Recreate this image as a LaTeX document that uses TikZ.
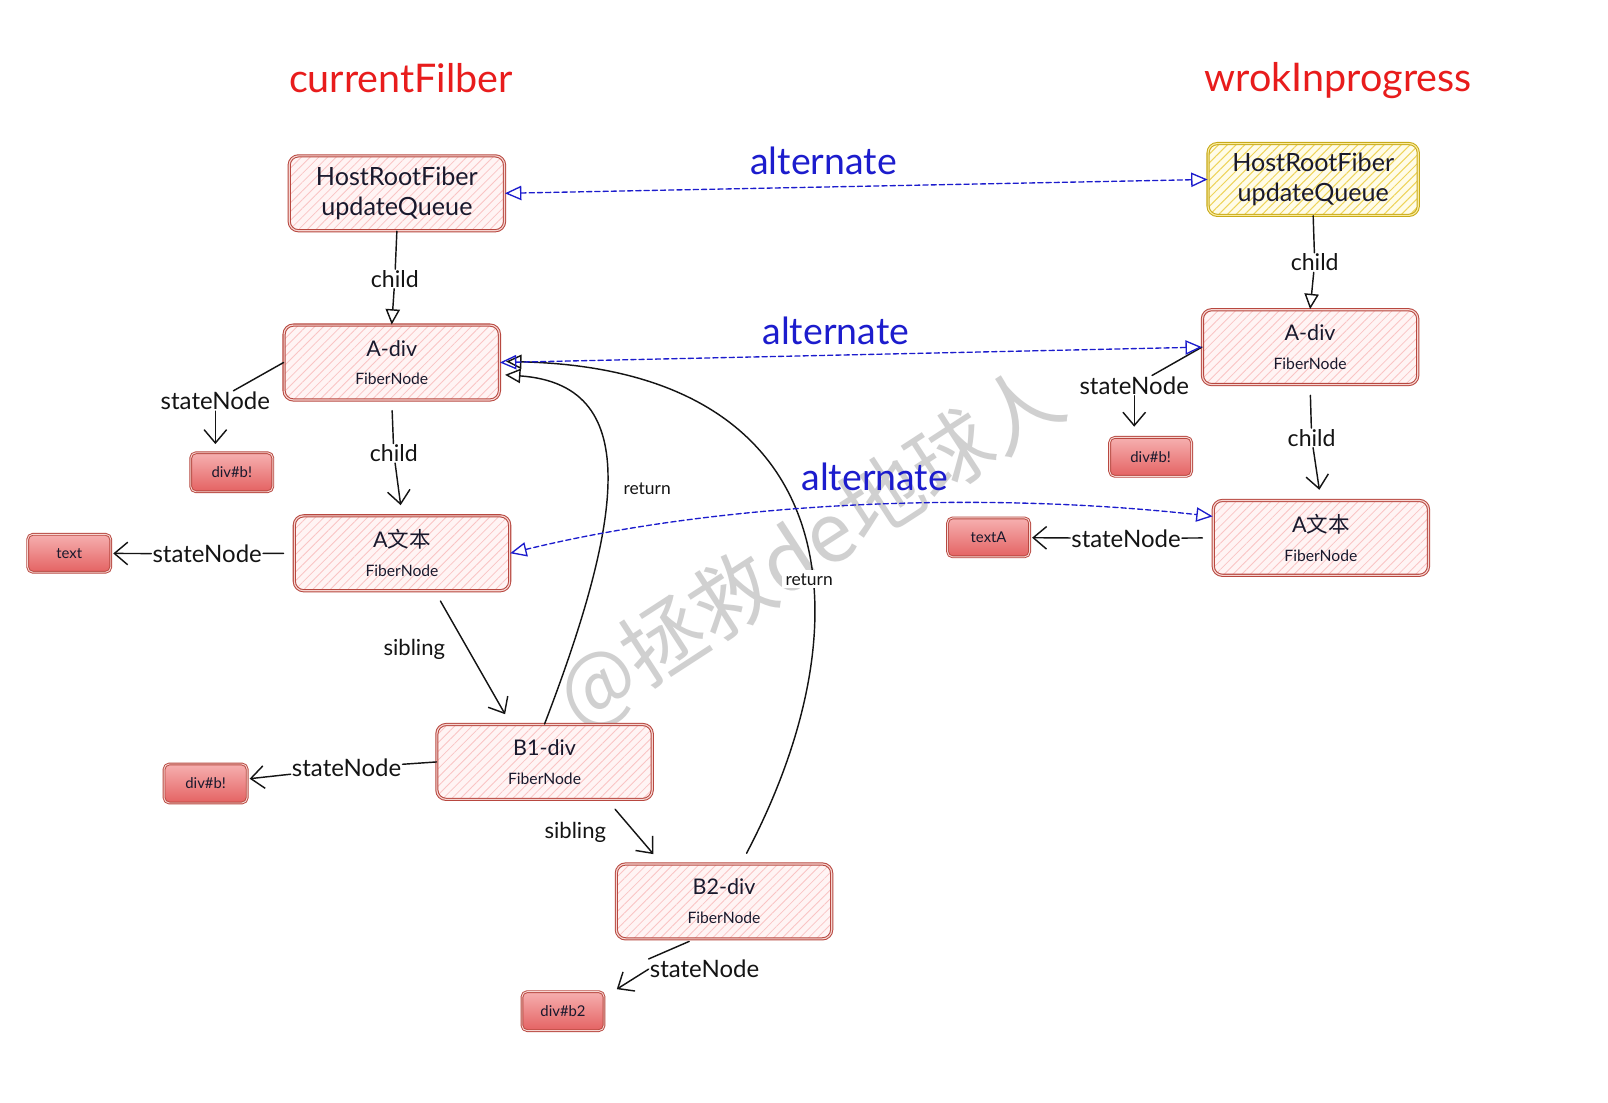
\documentclass[tikz,border=0pt]{standalone}
\usepackage{fontspec}
\setmainfont{Lato}
\newfontfamily\cjk{Noto Sans CJK SC}
\usetikzlibrary{arrows.meta,patterns.meta,calc}

\definecolor{ink}{RGB}{20,20,20}
\definecolor{inkdark}{RGB}{25,25,45}
\definecolor{titlered}{RGB}{232,28,28}
\definecolor{altblue}{RGB}{28,28,205}
\definecolor{boxred}{RGB}{184,72,64}
\definecolor{boxgap}{RGB}{246,214,210}
\definecolor{pinkbase}{RGB}{255,244,244}
\definecolor{pinkhatch}{RGB}{250,196,196}
\definecolor{ybord}{RGB}{200,170,25}
\definecolor{ygap}{RGB}{250,235,160}
\definecolor{ybase}{RGB}{255,252,232}
\definecolor{yhatch}{RGB}{238,212,90}
\definecolor{smtop}{RGB}{246,176,176}
\definecolor{smbot}{RGB}{228,98,98}
\definecolor{wmgray}{RGB}{208,208,208}

\newcommand\szT{\fontsize{38.5}{46}\selectfont}
\newcommand\szL{\fontsize{36.5}{44}\selectfont}
\newcommand\szH{\fontsize{24.5}{29}\selectfont}
\newcommand\szA{\fontsize{21}{25}\selectfont}
\newcommand\szB{\fontsize{23.4}{27}\selectfont}
\newcommand\szK{\fontsize{22.5}{26}\selectfont}
\newcommand\szS{\fontsize{21.5}{26}\selectfont}
\newcommand\szC{\fontsize{15.3}{18}\selectfont}
\newcommand\szD{\fontsize{14.5}{17}\selectfont}
\newcommand\szE{\fontsize{17}{20}\selectfont}
\newcommand\szW{\fontsize{80}{90}\selectfont}

\begin{document}
\begin{tikzpicture}[x=1pt,y=-1pt,line cap=round,line join=round,
  fiber/.style={draw=boxred, line width=1pt, double=boxgap, double distance=1.1pt,
    rounded corners=9pt, minimum width=210pt, minimum height=73pt, inner sep=0pt,
    align=center, font=\szC, text=inkdark,
    preaction={fill=pinkbase},
    pattern={Lines[angle=45,distance=6pt,line width=0.8pt]}, pattern color=pinkhatch},
  rootbox/.style={fiber, minimum width=205pt, minimum height=70pt, font=\szH,
    draw=ybord, double=ygap, preaction={fill=ybase},
    pattern={Lines[angle=45,distance=6pt,line width=1pt]}, pattern color=yhatch},
  smallbox/.style={draw=boxred, line width=0.9pt, double=boxgap, double distance=0.9pt,
    rounded corners=5pt, top color=smtop, bottom color=smbot,
    minimum width=80pt, minimum height=38pt, inner sep=0pt, font=\szD, text=inkdark},
  lbl/.style={font=\szB, text=ink, inner sep=1pt},
  childlbl/.style={lbl, font=\szK},
  siblbl/.style={lbl, font=\szS},
  conn/.style={draw=ink, line width=1.4pt},
  barb/.style={-{Straight Barb[length=13pt,width=22pt,line width=1.4pt]}},
  tri/.style={-{Triangle[open,length=15pt,width=14pt,line width=1.4pt]}},
  alt/.style={draw=altblue, line width=1.3pt, dash pattern=on 5pt off 3pt,
    {Triangle[open,length=16pt,width=14pt,line width=1.3pt]}-{Triangle[open,length=16pt,width=14pt,line width=1.3pt]}},
  alttext/.style={font=\szL, text=altblue, inner sep=1pt},
  titletext/.style={font=\szT, text=titlered, inner sep=1pt}
]
\useasboundingbox (0,0) rectangle (1568,1075);
\fill[white] (0,0) rectangle (1568,1075);

% watermark
\node[rotate=33, text=wmgray, font=\szW\cjk] (wm) at (790,535) {@拯救de地球人};

% column titles
\node[titletext] (t1) at (391,76) {currentFilber};
\node[titletext] (t2) at (1305,79) {wrokInprogress};

% current fiber tree
\node[fiber, font=\szH] (hrfL) at (387,188.5) {HostRootFiber\\updateQueue};
\node[fiber] (adivL) at (382,353.5) {{\szA A-div}\\[10pt]FiberNode};
\node[fiber] (atxtL) at (392,539.5) {{\szA A{\cjk 文本}}\\[10pt]FiberNode};
\node[fiber] (b1) at (531,743) {{\szA B1-div}\\[10pt]FiberNode};
\node[fiber] (b2) at (706,879) {{\szA B2-div}\\[10pt]FiberNode};

% work-in-progress tree
\node[rootbox] (hrfR) at (1280.5,175) {HostRootFiber\\updateQueue};
\node[fiber] (adivR) at (1277.5,338.5) {{\szA A-div}\\[10pt]FiberNode};
\node[fiber] (atxtR) at (1288,524.5) {{\szA A{\cjk 文本}}\\[10pt]FiberNode};

% state nodes
\node[smallbox] (sbL) at (226,460.5) {div\#b!};
\node[smallbox] (sbR) at (1122,445.5) {div\#b!};
\node[smallbox, minimum width=81pt, minimum height=37pt] (txt) at (67.5,539.5) {text};
\node[smallbox] (txtA) at (964,524) {textA};
\node[smallbox, minimum width=81pt] (sbB1) at (200.5,764) {div\#b!};
\node[smallbox] (sbB2) at (549,986) {div\#b2};

% edge labels
\node[childlbl] (c1) at (385,272) {child};
\node[childlbl] (c2) at (384,442) {child};
\node[lbl] (s1) at (210,391) {stateNode};
\node[lbl] (s2) at (202,540) {stateNode};
\node[siblbl] (sib1) at (404,633) {sibling};
\node[lbl] (s3) at (338,749) {stateNode};
\node[siblbl] (sib2) at (561,812) {sibling};
\node[lbl] (s4) at (687,945) {stateNode};
\node[childlbl] (c3) at (1282,256) {child};
\node[childlbl] (c4) at (1279,427) {child};
\node[lbl] (s5) at (1106,376) {stateNode};
\node[lbl] (s6) at (1098,525) {stateNode};

% child links
\draw[conn] (hrfL.south) -- (c1);
\draw[conn,tri] (c1) -- (adivL.north);
\draw[conn,shorten <=10pt] (adivL.south) -- (c2);
\draw[conn,barb,shorten >=10pt] (c2) -- (atxtL.north);
\draw[conn] (hrfR.south) -- (c3);
\draw[conn,tri] (c3) -- (adivR.north);
\draw[conn,shorten <=10pt] (adivR.south) -- (c4);
\draw[conn,barb,shorten >=10pt] (c4) -- (atxtR.north);

% stateNode links
\draw[conn] (adivL.west) -- (s1);
\draw[conn,barb,shorten >=8pt] (s1.south) -- (s1.south |- sbL.north);
\draw[conn,shorten <=10pt] (atxtL.west) -- (s2);
\draw[conn,barb,shorten >=2pt] (s2) -- (txt);
\draw[conn] (b1.west) -- (s3);
\draw[conn,barb,shorten >=2pt] (s3) -- (sbB1);
\draw[conn] ($(b2.south)+(-34,2)$) -- (s4.north west);
\draw[conn,barb] (s4.west) -- ($(sbB2.north east)+(12,-2)$);
\draw[conn] (adivR.west) -- (s5);
\draw[conn,barb,shorten >=10pt] (s5.south) -- (s5.south |- sbR.north);
\draw[conn,shorten <=10pt] (atxtR.west) -- (s6);
\draw[conn,barb,shorten >=2pt] (s6) -- (txtA);

% sibling links
\draw[conn,barb,shorten <=11pt,shorten >=11pt] ($(atxtL.south)+(32,0)$) -- ($(b1.north)+(-33,0)$);
\draw[conn,barb,shorten <=12pt,shorten >=12pt] ($(b1.south)+(61,0)$) -- ($(b2.north)+(-61,0)$);

% return links
\draw[conn,tri] (b1.north) .. controls (610,500) and (625,375) .. ($(adivL.east)+(5,12)$);
\node[font=\szE, text=ink, inner sep=1pt] (r1) at (631,477) {return};
\draw[conn,tri] ($(b2.north)+(22,-10)$) .. controls (850,600) and (820,360) .. ($(adivL.east)+(6,-1)$);
\node[font=\szE, text=ink, fill=white, inner sep=3pt] (r2) at (789,565) {return};

% alternate links
\draw[alt] (hrfL.east) -- (hrfR.west);
\node[alttext] (a1) at (803,157) {alternate};
\draw[alt] (adivL.east) -- (adivR.west);
\node[alttext] (a2) at (815,323) {alternate};
\draw[alt] (atxtL.east) .. controls (700,490) and (950,478) .. ([yshift=21pt]atxtR.west);
\node[alttext] (a3) at (853,465) {alternate};
\end{tikzpicture}
\end{document}
